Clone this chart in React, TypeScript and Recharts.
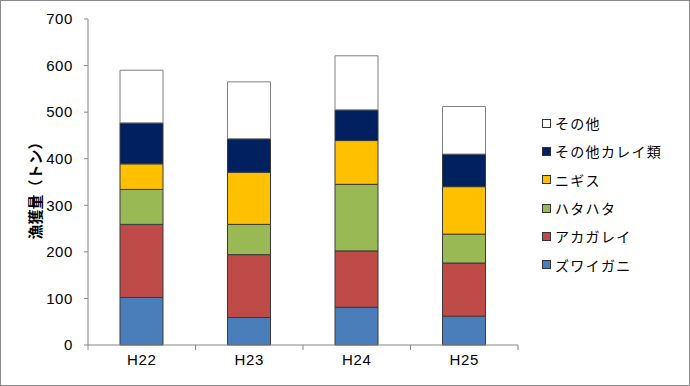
import { BarChart, Bar, XAxis, YAxis } from 'recharts';

const YEARS = ['H22', 'H23', 'H24', 'H25'];
const ZUWAIGANI = [102, 59, 81, 62];
const AKAGAREI = [157, 135, 121, 114];
const HATAHATA = [75, 65, 143, 62];
const NIGISU = [55, 112, 94, 102];
const OTHER_KAREI = [88, 72, 66, 70];
const OTHER = [113, 122, 116, 102];
const Y_TICKS = [0, 100, 200, 300, 400, 500, 600, 700];

const SERIES = [
    { key: 'zuwai', name: 'ズワイガニ', values: ZUWAIGANI, color: '#4A7EBB' },
    { key: 'aka', name: 'アカガレイ', values: AKAGAREI, color: '#BE4B48' },
    { key: 'hata', name: 'ハタハタ', values: HATAHATA, color: '#98B954' },
    { key: 'nigisu', name: 'ニギス', values: NIGISU, color: '#FFC000' },
    { key: 'karei', name: 'その他カレイ類', values: OTHER_KAREI, color: '#002060' },
    { key: 'other', name: 'その他', values: OTHER, color: '#FFFFFF' },
];

const data = YEARS.map((year, i) => {
    const row: Record<string, string | number> = { year };
    SERIES.forEach(s => { row[s.key] = s.values[i]; });
    return row;
});

const FONT = 'Arial, "Liberation Sans", "Noto Sans CJK JP", sans-serif';
const JP_FONT = '"Noto Sans CJK JP", sans-serif';

function XTick(props: any) {
    const { x, y, payload, index, visibleTicksCount } = props;
    const off = payload.offset ?? 0;
    const last = index === visibleTicksCount - 1;
    return (
        <g>
            <line x1={x - off} y1={y - 8} x2={x - off} y2={y - 3} stroke="#868686" />
            {last && <line x1={x + off} y1={y - 8} x2={x + off} y2={y - 3} stroke="#868686" />}
            <text x={x} y={y + 12} textAnchor="middle" fontSize={15} letterSpacing={0.6}
                fill="#000" fontFamily={FONT}>
                {payload.value}
            </text>
        </g>
    );
}

export default function App() {
    return (
        <div style={{
            position: 'absolute', left: 0, top: 0, width: 690, height: 386,
            boxSizing: 'border-box', border: '1px solid #8c8c8c', background: '#fff',
        }}>
            <div style={{ position: 'absolute', left: -1, top: -1 }}>
                <BarChart width={690} height={386} data={data}
                    margin={{ top: 19, right: 172, bottom: 0, left: 0 }} barSize={43}>
                    <XAxis dataKey="year" height={41} axisLine={{ stroke: '#868686' }}
                        tickLine={false} tick={<XTick />} interval={0} />
                    <YAxis width={88} domain={[0, 700]} ticks={Y_TICKS} interval={0}
                        axisLine={{ stroke: '#868686' }} tickLine={{ stroke: '#868686' }}
                        tickSize={4} tickMargin={11}
                        tick={{ fontSize: 15, fill: '#000', fontFamily: FONT, letterSpacing: 0.6 }} />
                    {SERIES.map(s => (
                        <Bar key={s.key} dataKey={s.key} name={s.name} stackId="a" fill={s.color}
                            stroke={s.key === 'other' ? '#7f7f7f' : '#3a3a3a'} strokeWidth={1}
                            isAnimationActive={false} />
                    ))}
                </BarChart>
            </div>
            <div style={{
                position: 'absolute', left: 541, top: 108, fontFamily: JP_FONT, fontSize: 14, color: '#000',
            }}>
                {[...SERIES].reverse().map(s => (
                    <div key={s.key} style={{ display: 'flex', alignItems: 'center', height: 28.3 }}>
                        <span style={{
                            display: 'inline-block', width: 7, height: 7, background: s.color,
                            border: '1px solid #333', marginRight: 4,
                        }} />
                        <span style={{ letterSpacing: 1.3 }}>{s.name}</span>
                    </div>
                ))}
            </div>
            <div style={{
                position: 'absolute', left: 33, top: 186, transform: 'translate(-50%, -50%) rotate(-90deg)',
                fontFamily: JP_FONT, fontWeight: 'bold', fontSize: 15, whiteSpace: 'nowrap', color: '#000',
            }}>
                漁獲量（トン）
            </div>
        </div>
    );
}
